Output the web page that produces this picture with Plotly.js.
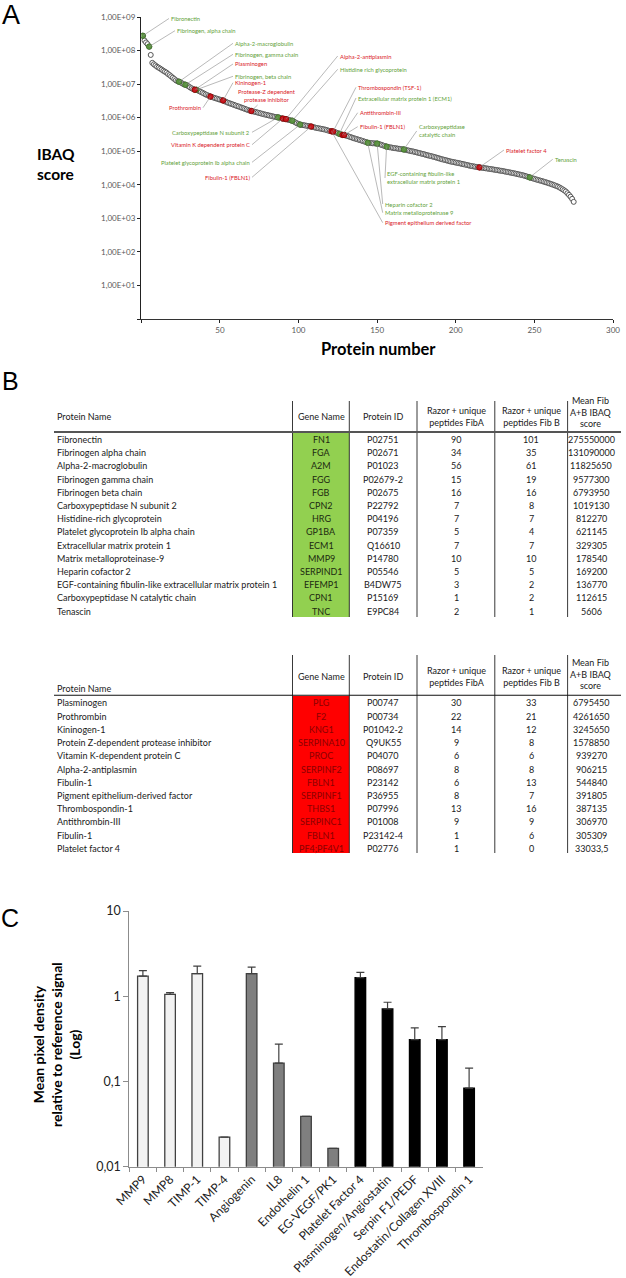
<!DOCTYPE html>
<html><head><meta charset="utf-8">
<script src="https://cdn.plot.ly/plotly-3.0.1.min.js"></script>
<style>html,body{margin:0;padding:0;background:#fff}#chart{width:626px;height:1278px}</style>
</head><body><div id="chart"></div>
<script>
// ================= DATA =================
// Panel A: IBAQ score per protein, ranked (protein number = index + 1)
const ibaqScore = [
2.76e8,2.0e8,1.75e8,1.55e8,1.31e8,7.4e7,4.3e7,3.9e7,3.6e7,3.3e7,
3.1e7,2.9e7,2.7e7,2.5e7,2.35e7,2.2e7,2.0e7,1.85e7,1.7e7,1.55e7,
1.42e7,1.3e7,1.22e7,1.18e7,1.12e7,1.05e7,9.9e6,9.58e6,9.2e6,8.6e6,
8.0e6,7.5e6,7.1e6,6.80e6,6.79e6,6.5e6,6.1e6,5.8e6,5.5e6,5.2e6,
4.9e6,4.7e6,4.45e6,4.26e6,4.1e6,3.95e6,3.8e6,3.7e6,3.55e6,3.45e6,
3.35e6,3.25e6,3.1e6,2.95e6,2.8e6,2.7e6,2.6e6,2.5e6,2.4e6,2.3e6,
2.2e6,2.15e6,2.05e6,1.98e6,1.9e6,1.82e6,1.75e6,1.68e6,1.62e6,1.58e6,
1.54e6,1.5e6,1.46e6,1.42e6,1.38e6,1.34e6,1.3e6,1.26e6,1.23e6,1.2e6,
1.17e6,1.14e6,1.11e6,1.08e6,1.06e6,1.04e6,1.02e6,9.9e5,9.6e5,9.39e5,
9.2e5,9.06e5,8.8e5,8.5e5,8.3e5,8.12e5,7.7e5,7.2e5,6.8e5,6.5e5,
6.21e5,6.1e5,6.0e5,5.9e5,5.75e5,5.65e5,5.55e5,5.45e5,5.3e5,5.15e5,
5.0e5,4.9e5,4.8e5,4.7e5,4.6e5,4.5e5,4.4e5,4.25e5,4.1e5,4.0e5,
3.92e5,3.87e5,3.75e5,3.6e5,3.45e5,3.29e5,3.15e5,3.07e5,3.05e5,2.95e5,
2.85e5,2.75e5,2.65e5,2.55e5,2.45e5,2.38e5,2.3e5,2.22e5,2.15e5,2.08e5,
2.0e5,1.93e5,1.86e5,1.79e5,1.77e5,1.75e5,1.73e5,1.72e5,1.70e5,1.69e5,
1.64e5,1.59e5,1.53e5,1.47e5,1.42e5,1.37e5,1.34e5,1.31e5,1.29e5,1.26e5,
1.24e5,1.22e5,1.2e5,1.18e5,1.16e5,1.14e5,1.13e5,1.10e5,1.07e5,1.05e5,
1.02e5,1.0e5,9.8e4,9.5e4,9.3e4,9.0e4,8.8e4,8.5e4,8.3e4,8.1e4,
7.8e4,7.6e4,7.4e4,7.2e4,7.0e4,6.8e4,6.6e4,6.4e4,6.2e4,6.0e4,
5.8e4,5.65e4,5.5e4,5.35e4,5.2e4,5.05e4,4.9e4,4.8e4,4.7e4,4.6e4,
4.5e4,4.4e4,4.3e4,4.2e4,4.1e4,4.0e4,3.9e4,3.8e4,3.7e4,3.62e4,
3.55e4,3.48e4,3.42e4,3.36e4,3.30e4,3.25e4,3.2e4,3.15e4,3.1e4,3.05e4,
3.0e4,2.95e4,2.9e4,2.85e4,2.8e4,2.75e4,2.7e4,2.65e4,2.6e4,2.55e4,
2.5e4,2.45e4,2.4e4,2.35e4,2.3e4,2.25e4,2.2e4,2.15e4,2.1e4,2.05e4,
2.0e4,1.95e4,1.9e4,1.84e4,1.78e4,1.72e4,1.66e4,1.6e4,1.55e4,1.5e4,
1.45e4,1.4e4,1.36e4,1.32e4,1.28e4,1.24e4,1.2e4,1.16e4,1.12e4,1.08e4,
1.04e4,1.0e4,9.6e3,9.2e3,8.8e3,8.3e3,7.8e3,7.3e3,6.8e3,6.3e3,
5.6e3,5.0e3,4.4e3,3.8e3,3.1e3
];
const greenRanks = [1,5,24,28,35,87,96,101,126,144,150,156,167,247];
const redRanks   = [34,44,52,70,90,92,108,121,122,128,129,215];

const labelText = [
 "Fibronectin","Fibrinogen, alpha chain","Alpha-2-macroglobulin","Fibrinogen, gamma chain",
 "Plasminogen","Fibrinogen, beta chain","Kininogen-1","Protease-Z dependent<br>protease inhibitor",
 "Prothrombin","Carboxypeptidase N subunit 2","Vitamin K dependent protein C",
 "Platelet glycoprotein Ib alpha chain","Fibulin-1 (FBLN1)","Alpha-2-antiplasmin",
 "Histidine rich glycoprotein","Thrombospondin (TSF-1)","Extracellular matrix protein 1 (ECM1)",
 "Antithrombin-III","Fibulin-1 (FBLN1)","Carboxypeptidase<br>catalytic chain","Platelet factor 4",
 "Tenascin","EGF-containing fibulin-like<br>extracellular matrix protein 1","Heparin cofactor 2",
 "Matrix metalloproteinase 9","Pigment epithelium derived factor"
];
const labelRank = [1,5,24,28,34,35,52,70,44,87,90,101,108,92,96,122,126,128,129,167,215,247,156,150,144,121];
const labelGroup = ["g","g","g","g","r","g","r","r","r","g","r","g","r","r","g","r","g","r","r","g","r","g","g","g","g","r"];

// Panel B tables
const t1Names = ["Fibronectin","Fibrinogen alpha chain","Alpha-2-macroglobulin","Fibrinogen gamma chain","Fibrinogen beta chain","Carboxypeptidase N subunit 2","Histidine-rich glycoprotein","Platelet glycoprotein Ib alpha chain","Extracellular matrix protein 1","Matrix metalloproteinase-9","Heparin cofactor 2","EGF-containing fibulin-like extracellular matrix protein 1","Carboxypeptidase N catalytic chain","Tenascin"];
const t1Genes = ["FN1","FGA","A2M","FGG","FGB","CPN2","HRG","GP1BA","ECM1","MMP9","SERPIND1","EFEMP1","CPN1","TNC"];
const t1Ids   = ["P02751","P02671","P01023","P02679-2","P02675","P22792","P04196","P07359","Q16610","P14780","P05546","B4DW75","P15169","E9PC84"];
const t1FibA  = [90,34,56,15,16,7,7,5,7,10,5,3,1,2];
const t1FibB  = [101,35,61,19,16,8,7,4,7,10,5,2,2,1];
const t1Ibaq  = ["275550000","131090000","11825650","9577300","6793950","1019130","812270","621145","329305","178540","169200","136770","112615","5606"];

const t2Names = ["Plasminogen","Prothrombin","Kininogen-1","Protein Z-dependent protease inhibitor","Vitamin K-dependent protein C","Alpha-2-antiplasmin","Fibulin-1","Pigment epithelium-derived factor","Thrombospondin-1","Antithrombin-III","Fibulin-1","Platelet factor 4"];
const t2Genes = ["PLG","F2","KNG1","SERPINA10","PROC","SERPINF2","FBLN1","SERPINF1","THBS1","SERPINC1","FBLN1","PF4;PF4V1"];
const t2Ids   = ["P00747","P00734","P01042-2","Q9UK55","P04070","P08697","P23142","P36955","P07996","P01008","P23142-4","P02776"];
const t2FibA  = [30,22,14,9,6,8,6,8,13,9,1,1];
const t2FibB  = [33,21,12,8,6,8,13,7,16,9,6,0];
const t2Ibaq  = ["6795450","4261650","3245650","1578850","939270","906215","544840","391805","387135","306970","305309","33033,5"];
const headers = ["Protein Name","Gene Name","Protein ID","Razor + unique<br>peptides FibA","Razor + unique<br>peptides Fib B","Mean Fib<br>A+B IBAQ<br>score"];

// Panel C
const cytoNames = ["MMP9","MMP8","TIMP-1","TIMP-4","Angiogenin","IL8","Endothelin 1","EG-VEGF/PK1","Platelet Factor 4","Plasminogen/Angiostatin","Serpin F1/PEDF","Endostatin/Collagen XVIII","Thrombospondin 1"];
const cytoMean  = [1.72,1.05,1.84,0.0222,1.84,0.164,0.039,0.0164,1.65,0.71,0.31,0.31,0.0836];
const cytoErr   = [0.28,0.05,0.41,0,0.36,0.11,0,0,0.26,0.14,0.115,0.13,0.06];
const cytoGroup = [0,0,0,0,1,1,1,1,2,2,2,2,2];

// ================= LAYOUT HELPERS =================
const W = 626, H = 1278;
const PX = x => x / W, PY = y => 1 - y / H;
const A = {x0: 141.3, x1: 613, yb: 319, yt: 17};      // panel A plot box (px)
const C = {x0: 129.3, x1: 482.7, yb: 1166.7, yt: 911}; // panel C plot box (px)
const pxA = r => A.x0 + r / 300 * (A.x1 - A.x0);
const pyA = v => A.yb - Math.log10(v) / 9 * (A.yb - A.yt);

const FONT = "Lato, 'Open Sans', sans-serif";
const GREEN_T = "#5f9f3a", RED_T = "#d9191f";

const annotations = [], shapes = [];
function txt(x, y, text, o) {
  o = o || {};
  annotations.push({xref: "paper", yref: "paper", x: PX(x), y: PY(y), text: text, showarrow: false,
    xanchor: o.xa || "center", yanchor: o.ya || "middle", align: o.align || "center",
    font: {family: o.family || FONT, size: o.size || 9, color: o.color || "#1a1a1a"}});
}
function line(x0, y0, x1, y1, color, width) {
  shapes.push({type: "line", xref: "paper", yref: "paper", x0: PX(x0), y0: PY(y0), x1: PX(x1), y1: PY(y1),
    line: {color: color, width: width}});
}
function rect(x0, y0, x1, y1, fill) {
  shapes.push({type: "rect", xref: "paper", yref: "paper", x0: PX(x0), y0: PY(y0), x1: PX(x1), y1: PY(y1),
    fillcolor: fill, line: {width: 0}, layer: "below"});
}

// ---- Panel A labels (positions are layout, in px) ----
const labelPos = [
 [169,18.5,"left"],[175,30.7,"left"],[233,43.3,"left"],[233,54.3,"left"],
 [233,64,"left"],[233,76.3,"left"],[233,82.7,"left"],[267,96,"center"],
 [203,107.7,"right"],[252,132.3,"right"],[252,144.7,"right"],
 [252,162.3,"right"],[252,177.3,"right"],[337.7,56,"left"],
 [337.7,69.3,"left"],[356,87.3,"left"],[356,98,"left"],
 [357.7,112.7,"left"],[357.7,126.7,"left"],[416.7,131,"left"],[504,150,"left"],
 [552.7,159.3,"left"],[385,178,"left"],[382.7,204,"left"],
 [382.7,212.7,"left"],[382.7,222.7,"left"]
];
labelText.forEach((t, i) => {
  const r = labelRank[i], v = ibaqScore[r - 1], p = labelPos[i];
  annotations.push({xref: "x", yref: "y", x: r, y: Math.log10(v), text: t,
    showarrow: true, arrowhead: 0, arrowwidth: 0.6, arrowcolor: "#8a8a8a",
    ax: p[0] - pxA(r), ay: p[1] - pyA(v), xanchor: p[2], yanchor: "middle", align: p[2] === "center" ? "center" : "left",
    font: {family: FONT, size: 5.8, color: labelGroup[i] === "g" ? GREEN_T : RED_T}});
});

// Panel letters and axis titles
txt(11, 15, "A", {size: 27, family: "Liberation Sans, Arial, sans-serif", color: "#000"});
txt(10, 381, "B", {size: 25, family: "Liberation Sans, Arial, sans-serif", color: "#000"});
txt(10, 918, "C", {size: 25, family: "Liberation Sans, Arial, sans-serif", color: "#000"});
txt(35, 164, "<b>IBAQ</b><br><b>score</b>", {xa: "left", align: "left", size: 15.5, color: "#000"});
txt(378, 349, "<b>Protein number</b>", {size: 16.5, color: "#000"});
annotations.push({xref: "paper", yref: "paper", x: PX(56), y: PY(1045), xanchor: "center", yanchor: "middle",
  textangle: -90, showarrow: false,
  text: "<b>Mean pixel density</b><br><b>relative to reference signal</b><br><b>(Log)</b>",
  font: {family: FONT, size: 14, color: "#000"}, align: "center"});

// ---- Panel B tables ----
const colX = {name: 54.5, gene: 321, id: 383.3, a: 456, b: 531, ibaq: 591};
const vLines = [292.5, 349.3, 417, 494.8, 567.6];
function drawTable(t, names, genes, ids, fa, fb, ib, fill, geneColor) {
  rect(292.5, t.fillTop, 349.3, t.bottom, fill);
  vLines.forEach(x => line(x, t.lineTop, x, t.bottom, "#222", 0.9));
  line(54, t.hline, 621, t.hline, t.hcolor, t.hwidth);
  const hy = t.hy;
  txt(colX.name, hy.name, headers[0], {xa: "left", align: "left"});
  txt(colX.gene, hy.gene, headers[1]);
  txt(colX.id, hy.gene, headers[2]);
  txt(colX.a, hy.razor, headers[3]);
  txt(colX.b, hy.razor, headers[4]);
  txt(colX.ibaq, hy.mean, headers[5]);
  names.forEach((n, i) => {
    const y = t.row0 + i * 13.2;
    txt(colX.name, y, n, {xa: "left", align: "left"});
    txt(colX.gene, y, genes[i], {color: geneColor});
    txt(colX.id, y, ids[i]);
    txt(colX.a, y, String(fa[i]));
    txt(colX.b, y, String(fb[i]));
    txt(colX.ibaq, y, ib[i]);
  });
}
drawTable({fillTop: 433, bottom: 617, lineTop: 401, hline: 432, hcolor: "#555", hwidth: 2,
           hy: {name: 416, gene: 416, razor: 416, mean: 412}, row0: 439.5},
          t1Names, t1Genes, t1Ids, t1FibA, t1FibB, t1Ibaq, "#92d050", "#1d2a10");
drawTable({fillTop: 696, bottom: 853, lineTop: 655, hline: 695.3, hcolor: "#111", hwidth: 1.1,
           hy: {name: 688.5, gene: 676.7, razor: 676.7, mean: 674.3}, row0: 703},
          t2Names, t2Genes, t2Ids, t2FibA, t2FibB, t2Ibaq, "#ff0000", "#8b0000");

// ================= TRACES =================
const ranks = ibaqScore.map((_, i) => i + 1);
const traces = [
  {type: "scatter", mode: "markers", x: ranks, y: ibaqScore, xaxis: "x", yaxis: "y",
   marker: {size: 5, color: "#ffffff", line: {color: "#555", width: 1}}, hoverinfo: "skip"},
  {type: "scatter", mode: "markers", x: greenRanks, y: greenRanks.map(r => ibaqScore[r - 1]), xaxis: "x", yaxis: "y",
   marker: {size: 5.5, color: "#5b9440", line: {color: "#3f6e2a", width: 0.8}}, hoverinfo: "skip"},
  {type: "scatter", mode: "markers", x: redRanks, y: redRanks.map(r => ibaqScore[r - 1]), xaxis: "x", yaxis: "y",
   marker: {size: 5.5, color: "#c8161d", line: {color: "#8b0000", width: 0.8}}, hoverinfo: "skip"},
  {type: "bar", x: cytoNames, y: cytoMean, xaxis: "x2", yaxis: "y2", width: 0.39,
   marker: {color: cytoGroup.map(g => ["#f2f2f2", "#7f7f7f", "#000000"][g]),
            line: {color: cytoGroup.map(g => ["#404040", "#404040", "#000000"][g]), width: 1.3}},
   error_y: {type: "data", symmetric: false, array: cytoErr, arrayminus: cytoErr.map(() => 0),
             color: "#404040", thickness: 1.2, width: 4},
   hoverinfo: "skip"}
];

const expLabels = ["", "1,00E+01","1,00E+02","1,00E+03","1,00E+04","1,00E+05","1,00E+06","1,00E+07","1,00E+08","1,00E+09"];
const layout = {
  width: W, height: H, margin: {l: 0, r: 0, t: 0, b: 0}, autosize: false,
  paper_bgcolor: "#fff", plot_bgcolor: "rgba(0,0,0,0)", showlegend: false,
  xaxis: {domain: [PX(A.x0), PX(A.x1)], anchor: "y", range: [0, 300], tickvals: [0,50,100,150,200,250,300],
          ticktext: ["","50","100","150","200","250","300"], ticks: "outside", ticklen: 3, tickcolor: "#222",
          showline: true, linecolor: "#333", linewidth: 1.4, showgrid: false, zeroline: false,
          tickfont: {family: FONT, size: 8, color: "#595959"}, fixedrange: true},
  yaxis: {domain: [PY(A.yb), PY(A.yt)], anchor: "x", type: "log", range: [0, 9],
          tickvals: [1,1e1,1e2,1e3,1e4,1e5,1e6,1e7,1e8,1e9], ticktext: expLabels,
          ticks: "outside", ticklen: 3, tickcolor: "#222", showline: true, linecolor: "#222", linewidth: 1.4,
          showgrid: false, zeroline: false, tickfont: {family: FONT, size: 8, color: "#595959"}, fixedrange: true},
  xaxis2: {domain: [PX(C.x0), PX(C.x1)], anchor: "y2", type: "category", tickson: "boundaries",
           ticks: "outside", ticklen: 4, tickcolor: "#8c8c8c", showline: true, linecolor: "#8c8c8c", linewidth: 1,
           tickangle: -45, tickfont: {family: FONT, size: 12, color: "#222"}, showgrid: false, fixedrange: true},
  yaxis2: {domain: [PY(C.yb), PY(C.yt)], anchor: "x2", type: "log", range: [-2, 1],
           tickvals: [0.01, 0.1, 1, 10], ticktext: ["0,01","0,1","1","10"], ticks: "outside", ticklen: 5,
           tickcolor: "#8c8c8c", showline: true, linecolor: "#8c8c8c", linewidth: 1, showgrid: false, zeroline: false,
           tickfont: {family: FONT, size: 12.5, color: "#222"}, fixedrange: true},
  bargap: 0.6,
  annotations: annotations, shapes: shapes
};
Plotly.newPlot("chart", traces, layout, {displayModeBar: false, staticPlot: true});
</script></body></html>
